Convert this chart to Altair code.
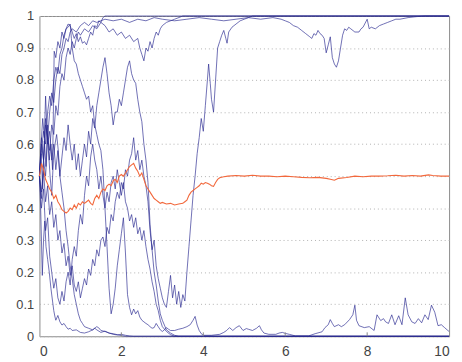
import altair as alt
import pandas as pd

# ---- data (t, allele frequency) ----
run_a = [(0,.5),(.04,.57),(.08,.46),(.12,.61),(.16,.53),(.2,.66),(.24,.55),(.28,.6),(.32,.52),(.34,.7),(.36,.89),(.4,.87),(.45,.92),(.5,.9),(.55,.95),(.6,.93),(.65,.96),(.7,.975),(.75,.97),(.8,.95),(.85,.93),(.9,.945),(.95,.92),(1.0,.935),(1.05,.915),(1.1,.92),(1.15,.91),(1.2,.93),(1.25,.95),(1.3,.94),(1.35,.97),(1.4,.965),(1.45,.985),(1.5,.98),(1.55,.995),(1.6,1),(1.7,1),(10,1)]
run_b = [(0,.5),(.05,.43),(.1,.55),(.15,.5),(.2,.62),(.25,.58),(.3,.66),(.35,.63),(.4,.72),(.45,.69),(.5,.78),(.55,.82),(.6,.8),(.65,.87),(.7,.9),(.75,.88),(.8,.92),(.85,.9),(.9,.93),(.95,.95),(1.0,.94),(1.1,.96),(1.2,.95),(1.3,.97),(1.4,.96),(1.5,.98),(1.6,.97),(1.7,.95),(1.8,.96),(1.9,.94),(2.0,.95),(2.1,.93),(2.2,.94),(2.3,.92),(2.4,.93),(2.45,.9),(2.5,.88),(2.55,.86),(2.6,.9),(2.65,.89),(2.7,.92),(2.75,.9),(2.8,.93),(2.85,.95),(2.9,.94),(2.95,.96),(3.0,.97),(3.1,.98),(3.2,.985),(3.3,.99),(3.5,1),(10,1)]
run_c = [(0,.5),(.05,.6),(.1,.55),(.15,.66),(.2,.62),(.25,.7),(.3,.76),(.35,.73),(.4,.8),(.45,.84),(.5,.82),(.55,.88),(.6,.9),(.65,.93),(.7,.92),(.75,.95),(.8,.96),(.9,.95),(1.0,.97),(1.1,.98),(1.2,.97),(1.3,.985),(1.4,.98),(1.6,.99),(1.8,.985),(2.0,.99),(2.2,.98),(2.4,.99),(2.6,.985),(2.8,.995),(3.0,.99),(3.3,.985),(3.6,.99),(3.9,.995),(4.2,.99),(4.5,.985),(4.8,.99),(5.1,.995),(5.4,.99),(5.7,.995),(5.9,.99),(6.0,.985),(6.1,.98),(6.2,.97),(6.3,.965),(6.4,.955),(6.5,.945),(6.6,.935),(6.65,.93),(6.7,.945),(6.75,.94),(6.8,.955),(6.85,.945),(6.9,.94),(6.95,.93),(7.0,.885),(7.05,.91),(7.1,.935),(7.15,.87),(7.2,.85),(7.25,.84),(7.3,.86),(7.35,.9),(7.4,.94),(7.45,.96),(7.5,.955),(7.55,.965),(7.6,.96),(7.7,.95),(7.8,.95),(7.85,.96),(7.9,.965),(8.0,.99),(8.05,.96),(8.1,.965),(8.2,.96),(8.3,.97),(8.4,.975),(8.5,.98),(8.6,.985),(8.7,.99),(8.8,.99),(9.0,.995),(9.2,.998),(9.4,1),(10,1)]
run_d = [(0,.5),(.05,.62),(.1,.55),(.15,.68),(.2,.6),(.25,.64),(.3,.55),(.35,.6),(.4,.52),(.45,.58),(.5,.5),(.55,.56),(.6,.62),(.65,.58),(.7,.66),(.75,.6),(.8,.55),(.85,.6),(.9,.52),(.95,.57),(1.0,.5),(1.05,.55),(1.1,.6),(1.15,.56),(1.2,.64),(1.25,.6),(1.3,.68),(1.35,.65),(1.4,.72),(1.45,.76),(1.5,.8),(1.55,.84),(1.6,.87),(1.65,.82),(1.7,.76),(1.75,.72),(1.8,.66),(1.85,.7),(1.9,.7),(1.95,.74),(2.0,.72),(2.05,.76),(2.1,.8),(2.15,.84),(2.2,.86),(2.25,.82),(2.3,.8),(2.35,.79),(2.4,.74),(2.45,.7),(2.5,.67),(2.55,.6),(2.6,.55),(2.65,.48),(2.7,.35),(2.75,.27),(2.8,.3),(2.85,.22),(2.9,.18),(2.95,.15),(3.0,.12),(3.05,.1),(3.1,.09),(3.15,.14),(3.2,.19),(3.25,.12),(3.3,.16),(3.35,.1),(3.4,.14),(3.45,.09),(3.5,.13),(3.55,.11),(3.6,.2),(3.65,.28),(3.7,.36),(3.75,.44),(3.8,.5),(3.85,.57),(3.9,.62),(3.95,.68),(4.0,.64),(4.05,.72),(4.1,.8),(4.13,.85),(4.17,.79),(4.2,.74),(4.25,.7),(4.3,.8),(4.35,.9),(4.4,.92),(4.45,.94),(4.5,.955),(4.55,.93),(4.58,.915),(4.62,.95),(4.7,.965),(4.8,.975),(4.9,.985),(5.0,.99),(5.2,1),(10,1)]
run_e = [(0,.5),(.05,.58),(.1,.64),(.15,.6),(.2,.7),(.25,.75),(.3,.72),(.35,.8),(.4,.84),(.45,.82),(.5,.88),(.55,.9),(.6,.94),(.65,.96),(.7,.965),(.75,.975),(.78,.93),(.8,.9),(.85,.86),(.9,.85),(.95,.82),(1.0,.8),(1.05,.78),(1.1,.76),(1.15,.74),(1.2,.75),(1.25,.7),(1.3,.72),(1.35,.66),(1.4,.63),(1.45,.6),(1.5,.58),(1.55,.52),(1.6,.4),(1.65,.28),(1.7,.15),(1.75,.07),(1.8,.1),(1.85,.15),(1.9,.22),(1.95,.27),(2.0,.32),(2.05,.37),(2.1,.26),(2.15,.13),(2.2,.09),(2.25,.067),(2.3,.085),(2.35,.07),(2.4,.08),(2.45,.06),(2.5,.05),(2.55,.045),(2.6,.04),(2.65,.036),(2.7,.03),(2.75,.025),(2.8,.027),(2.85,.04),(2.9,.03),(2.95,.02),(3.0,.015),(3.05,.02),(3.1,.027),(3.15,.022),(3.2,.018),(3.3,.018),(3.4,.022),(3.5,.025),(3.6,.03),(3.68,.036),(3.75,.05),(3.8,.062),(3.85,.035),(3.9,.018),(3.95,.008),(4.0,.003),(4.2,.003),(4.4,.006),(4.5,.012),(4.57,.018),(4.64,.027),(4.72,.018),(4.8,.027),(4.88,.033),(4.97,.018),(5.05,.024),(5.1,.022),(5.2,.018),(5.3,.025),(5.37,.033),(5.42,.02),(5.48,.01),(5.6,.006),(5.77,.006),(5.85,.01),(5.93,.012),(6.0,.009),(6.1,.006),(6.25,.001),(6.57,.001),(6.73,.008),(6.9,.014),(6.97,.027),(7.05,.036),(7.1,.052),(7.15,.04),(7.2,.03),(7.3,.036),(7.37,.03),(7.45,.036),(7.57,.052),(7.65,.067),(7.7,.097),(7.74,.05),(7.8,.033),(7.93,.027),(8.05,.03),(8.17,.018),(8.24,.067),(8.33,.049),(8.4,.055),(8.45,.045),(8.52,.04),(8.6,.067),(8.68,.036),(8.77,.064),(8.85,.036),(8.93,.12),(9.0,.067),(9.09,.045),(9.17,.04),(9.25,.055),(9.33,.042),(9.41,.067),(9.49,.052),(9.57,.097),(9.65,.075),(9.73,.033),(9.81,.036),(9.89,.027),(9.97,.018),(10,.015)]
run_f = [(0,.5),(.03,.4),(.07,.19),(.1,.3),(.13,.36),(.16,.28),(.2,.24),(.24,.2),(.28,.15),(.32,.11),(.35,.08),(.38,.06),(.4,.05),(.45,.065),(.5,.045),(.55,.035),(.6,.04),(.65,.03),(.7,.022),(.75,.025),(.8,.018),(.9,.02),(1.0,.012),(1.1,.01),(1.2,.014),(1.3,.02),(1.35,.025),(1.4,.02),(1.5,.012),(1.6,.016),(1.7,.01),(1.8,.006),(1.9,.004),(2.0,.006),(2.1,.003),(2.2,.001),(2.3,0),(10,0)]
run_g = [(0,.5),(.04,.6),(.08,.68),(.12,.62),(.15,.75),(.18,.66),(.22,.58),(.26,.5),(.3,.44),(.34,.55),(.38,.6),(.42,.63),(.46,.58),(.5,.5),(.55,.45),(.6,.4),(.65,.33),(.7,.28),(.75,.22),(.8,.18),(.85,.13),(.9,.1),(.95,.07),(1.0,.05),(1.05,.04),(1.1,.03),(1.2,.025),(1.3,.02),(1.4,.03),(1.45,.026),(1.5,.018),(1.6,.015),(1.7,.01),(1.8,.008),(1.9,.005),(2.0,.002),(2.1,0),(10,0)]
run_h = [(0,.5),(.05,.45),(.1,.52),(.15,.42),(.2,.47),(.25,.38),(.3,.42),(.35,.34),(.4,.38),(.45,.3),(.5,.33),(.55,.26),(.6,.29),(.65,.22),(.7,.25),(.75,.19),(.8,.22),(.85,.16),(.9,.14),(.95,.17),(1.0,.12),(1.05,.15),(1.1,.18),(1.15,.16),(1.2,.21),(1.25,.19),(1.3,.24),(1.35,.22),(1.4,.27),(1.45,.25),(1.5,.3),(1.55,.31),(1.6,.28),(1.65,.34),(1.7,.32),(1.75,.38),(1.8,.36),(1.85,.42),(1.9,.45),(1.95,.43),(2.0,.48),(2.05,.46),(2.1,.52),(2.15,.5),(2.2,.55),(2.25,.57),(2.3,.62),(2.35,.55),(2.4,.58),(2.45,.52),(2.5,.55),(2.55,.5),(2.6,.47),(2.65,.42),(2.7,.33),(2.75,.27),(2.8,.2),(2.85,.16),(2.9,.11),(2.95,.07),(3.0,.05),(3.05,.035),(3.1,.02),(3.2,.01),(3.3,.003),(3.4,0),(10,0)]
run_i = [(0,.5),(.05,.4),(.1,.46),(.15,.33),(.2,.37),(.25,.25),(.3,.2),(.35,.15),(.4,.18),(.45,.12),(.5,.1),(.55,.14),(.6,.11),(.65,.17),(.7,.2),(.75,.16),(.8,.24),(.85,.28),(.9,.25),(.95,.33),(1.0,.38),(1.05,.35),(1.1,.44),(1.15,.5),(1.2,.47),(1.25,.56),(1.3,.6),(1.35,.55),(1.4,.52),(1.45,.46),(1.5,.5),(1.55,.44),(1.6,.4),(1.65,.45),(1.7,.42),(1.75,.48),(1.8,.5),(1.85,.46),(1.9,.52),(1.95,.48),(2.0,.44),(2.05,.48),(2.1,.42),(2.15,.4),(2.2,.36),(2.25,.38),(2.3,.34),(2.35,.37),(2.4,.32),(2.45,.34),(2.5,.3),(2.55,.33),(2.6,.28),(2.65,.24),(2.7,.21),(2.75,.17),(2.8,.14),(2.85,.1),(2.9,.08),(2.95,.05),(3.0,.03),(3.1,.015),(3.2,.005),(3.3,0),(10,0)]

mean_line = [(0,.5),(.05,.54),(.1,.52),(.15,.49),(.2,.475),(.25,.46),(.3,.45),(.35,.43),(.4,.44),(.45,.42),(.5,.41),(.55,.395),(.6,.39),(.65,.385),(.7,.39),(.75,.4),(.8,.395),(.85,.41),(.9,.4),(.95,.415),(1.0,.41),(1.05,.42),(1.1,.415),(1.15,.42),(1.2,.425),(1.25,.415),(1.3,.41),(1.35,.43),(1.4,.44),(1.45,.43),(1.5,.45),(1.55,.46),(1.6,.455),(1.65,.47),(1.7,.475),(1.75,.47),(1.8,.485),(1.85,.49),(1.9,.48),(1.95,.5),(2.0,.505),(2.05,.5),(2.1,.51),(2.15,.52),(2.2,.53),(2.25,.535),(2.3,.54),(2.35,.525),(2.4,.515),(2.45,.5),(2.5,.51),(2.55,.49),(2.6,.47),(2.65,.46),(2.7,.45),(2.75,.44),(2.8,.43),(2.85,.425),(2.9,.42),(2.95,.415),(3.0,.418),(3.1,.413),(3.2,.415),(3.3,.41),(3.4,.413),(3.5,.415),(3.55,.42),(3.6,.425),(3.65,.44),(3.7,.45),(3.75,.455),(3.8,.46),(3.85,.465),(3.9,.47),(3.95,.478),(4.0,.475),(4.05,.48),(4.1,.478),(4.15,.475),(4.2,.47),(4.25,.468),(4.3,.48),(4.35,.49),(4.4,.495),(4.5,.498),(4.6,.5),(4.8,.502),(5.0,.5),(5.2,.503),(5.4,.5),(5.6,.5),(5.8,.498),(6.0,.5),(6.2,.498),(6.4,.496),(6.6,.495),(6.8,.496),(7.0,.493),(7.1,.49),(7.2,.487),(7.25,.49),(7.3,.493),(7.5,.496),(7.7,.5),(7.9,.498),(8.1,.5),(8.3,.5),(8.5,.501),(8.7,.503),(8.9,.5),(9.1,.502),(9.3,.5),(9.5,.504),(9.6,.502),(9.8,.5),(10,.5)]

x_tick_values = [0, 2, 4, 6, 8, 10]
y_tick_values = [0, 0.1, 0.2, 0.3, 0.4, 0.5, 0.6, 0.7, 0.8, 0.9, 1]
inner_ticks = [2, 4, 6, 8]

runs = {"a": run_a, "b": run_b, "c": run_c, "d": run_d, "e": run_e,
        "f": run_f, "g": run_g, "h": run_h, "i": run_i}
rows = [{"run": k, "t": t, "p": p} for k, pts in runs.items() for t, p in pts]
df = pd.DataFrame(rows)
mean_df = pd.DataFrame(mean_line, columns=["t", "p"])
ticks_df = pd.DataFrame({"t": inner_ticks})

xscale = alt.Scale(domain=[0, 10], nice=False, zero=False)
yscale = alt.Scale(domain=[0, 1], nice=False)

x_axis = alt.Axis(values=x_tick_values, grid=False, ticks=False, domain=False,
                  labelPadding=9, labelOverlap=False, labelFontSize=14, title=None)
y_axis = alt.Axis(values=y_tick_values, format=".1~f", grid=True, gridDash=[1, 3],
                  gridColor="#b0b0b0", ticks=False, domain=False,
                  labelPadding=6, labelOverlap=False, title=None)

lines = alt.Chart(df).mark_line(color="#24248e", strokeWidth=1, opacity=0.66).encode(
    x=alt.X("t:Q", scale=xscale, axis=x_axis),
    y=alt.Y("p:Q", scale=yscale, axis=y_axis),
    detail="run:N")
mean = alt.Chart(mean_df).mark_line(color="#f2683c", strokeWidth=1.1).encode(
    x=alt.X("t:Q", scale=xscale, axis=x_axis),
    y=alt.Y("p:Q", scale=yscale, axis=y_axis))
ticks = alt.Chart(ticks_df).mark_rule(color="#888888").encode(
    x=alt.X("t:Q", scale=xscale, axis=x_axis), y=alt.value(326), y2=alt.value(322))

chart = alt.layer(lines, mean, ticks).properties(
    width=417, height=326,
    padding={"left": 32, "top": 5, "right": 5, "bottom": 20},
    autosize=alt.AutoSizeParams(type="none"),
).configure_view(stroke="#8a8a8a", strokeWidth=1).configure_axis(
    labelFont="Liberation Sans", labelFontSize=13, labelColor="#444444",
    labelOverlap=False)

chart.save("out.html", embed_options={"renderer": "svg", "actions": False})
